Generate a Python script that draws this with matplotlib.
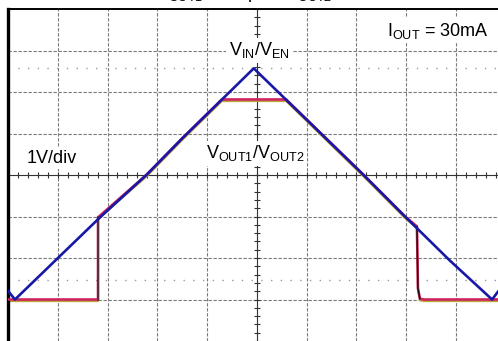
import numpy as np
import matplotlib
matplotlib.use('Agg')
import matplotlib.pyplot as plt

plt.rcParams['font.family'] = ['Liberation Sans', 'DejaVu Sans']
plt.rcParams['mathtext.fontset'] = 'custom'
plt.rcParams['mathtext.rm'] = 'Liberation Sans'
plt.rcParams['mathtext.it'] = 'Liberation Sans'

# time in scope divisions, voltage in V (1V/div)
t_in = [0.0, 0.14, 1.85, 2.79, 3.50, 4.94, 7.14, 7.98, 8.88, 9.73, 9.85]
v_in = [0.21, 0.0, 1.98, 3.01, 3.88, 5.57, 3.01, 2.00, 0.94, 0.0, 0.19]

t_out = [0.0, 1.81, 1.81, 2.79, 3.50, 4.30, 5.59, 7.14, 7.98, 8.22, 8.24, 8.28, 8.36, 9.85]
v_out = [0.0, 0.0, 1.98, 3.01, 3.88, 4.82, 4.82, 3.01, 2.00, 1.76, 0.27, 0.02, 0.0, 0.0]

cursor_levels = [5.57, 0.46]

fig = plt.figure(figsize=(4.98, 3.41), dpi=100)
ax = fig.add_axes([8 / 498, 0, 497.5 / 498, 332 / 341])
ax.set_xlim(0, 10)
ax.set_ylim(-1, 7)
ax.set_xticks([])
ax.set_yticks([])
for s in ['right', 'bottom']:
    ax.spines[s].set_visible(False)
ax.spines['left'].set_linewidth(2.4)
ax.spines['top'].set_linewidth(1.4)

grid_kw = dict(color='#7a7a7a', lw=0.8, ls=(0, (3, 1.5)), zorder=1)
for x in range(1, 10):
    if x != 5:
        ax.axvline(x, **grid_kw)
for y in range(0, 7):
    if y != 3:
        ax.axhline(y, **grid_kw)
for y in cursor_levels:
    ax.axhline(y, color='#9a9a9a', lw=1.0, ls=(0, (1, 6)), zorder=1)

# centre graticule with minor ticks
ax.axvline(5, color='#333333', lw=0.8, zorder=1)
ax.axhline(3, color='#333333', lw=0.8, zorder=1)
ticks_x = np.arange(0, 10.01, 0.2)
ticks_y = np.arange(-1, 7.01, 0.2)
ax.vlines(ticks_x, 3 - 0.07, 3 + 0.07, color='#333333', lw=0.8, zorder=1)
ax.hlines(ticks_y, 5 - 0.06, 5 + 0.06, color='#333333', lw=0.8, zorder=1)

# outputs
ax.plot(t_out, np.array(v_out) - 0.04, color='#b8a838', lw=1.4, zorder=2)
ax.plot(t_out, v_out, color='#d0245e', lw=1.9, zorder=3)
ax.plot(t_out[1:3], v_out[1:3], color='#333333', lw=1.1, zorder=4)
ax.plot(t_out[9:12], v_out[9:12], color='#111111', lw=1.0, zorder=4)
# input
ax.plot(t_in, v_in, color='#1818a8', lw=1.9, zorder=5)

bb = dict(facecolor='white', edgecolor='none', pad=2)
fs = 13
ax.text(7.62, 6.36, 'I$_{\\mathrm{OUT}}$ = 30mA', fontsize=fs, va='baseline',
        bbox=bb, zorder=10)
ax.text(4.44, 5.88, 'V$_{\\mathrm{IN}}$/V$_{\\mathrm{EN}}$', fontsize=fs,
        va='baseline', bbox=bb, zorder=10)
ax.text(3.98, 3.40, 'V$_{\\mathrm{OUT1}}$/V$_{\\mathrm{OUT2}}$', fontsize=fs,
        va='baseline', bbox=bb, zorder=10)
ax.text(0.38, 3.30, '1V/div', fontsize=fs, va='baseline', bbox=bb, zorder=10)

fig.text(155 / 498, 1 + 2 / 341, 'C$_{\\mathrm{OUT1}}$ = 2.2μF / C$_{\\mathrm{OUT2}}$',
         fontsize=fs, va='baseline', ha='left')

fig.savefig('out.png', dpi=100)
